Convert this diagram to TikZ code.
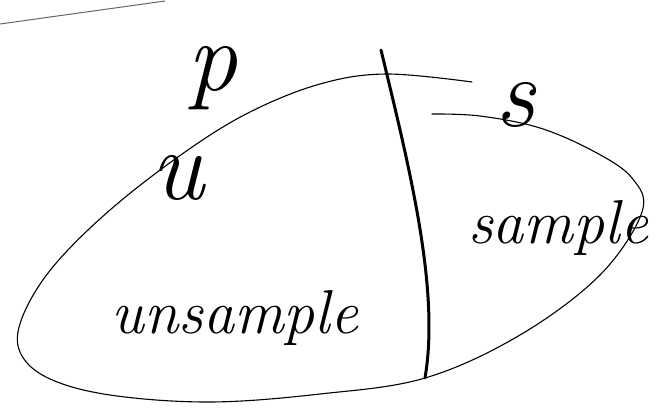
\documentclass[tikz,border=0pt]{standalone}
\begin{document}
\begin{tikzpicture}[x=1pt,y=-1pt,
  thinline/.style={line width=1.1pt, line cap=round, line join=round},
  thickline/.style={line width=3pt, line cap=round},
  hand/.style={font=\itshape, inner sep=0pt}]
\useasboundingbox (0,0) rectangle (670,413);
\fill[white] (0,0) rectangle (670,413);
\draw[line width=1pt, gray!80!black] (0,24) -- (165,1);
\draw[thinline] plot[smooth, tension=0.6] coordinates {(472,82) (386,74) (320,84) (250,112) (185,152) (110,210) (52,268) (22,318) (20,352) (48,378) (110,395) (210,402) (320,394) (425,378) (520,335) (600,275) (642,212) (632,178) (595,152) (540,128) (480,116) (432,114)};
\draw[thickline] (381,50) .. controls (410,170) and (440,290) .. (425,378);
\node[hand, font=\itshape\fontsize{100}{100}\selectfont] (p) at (212,78) {p};
\node[hand, font=\itshape\fontsize{100}{100}\selectfont] (u) at (178,178) {u};
\node[hand, font=\itshape\fontsize{100}{100}\selectfont] (s) at (515,105) {s};
\node[hand, font=\itshape\fontsize{62}{62}\selectfont] (uns) at (235,318) {unsample};
\node[hand, font=\itshape\fontsize{62}{62}\selectfont] (smp) at (558,228) {sample};
\end{tikzpicture}
\end{document}
